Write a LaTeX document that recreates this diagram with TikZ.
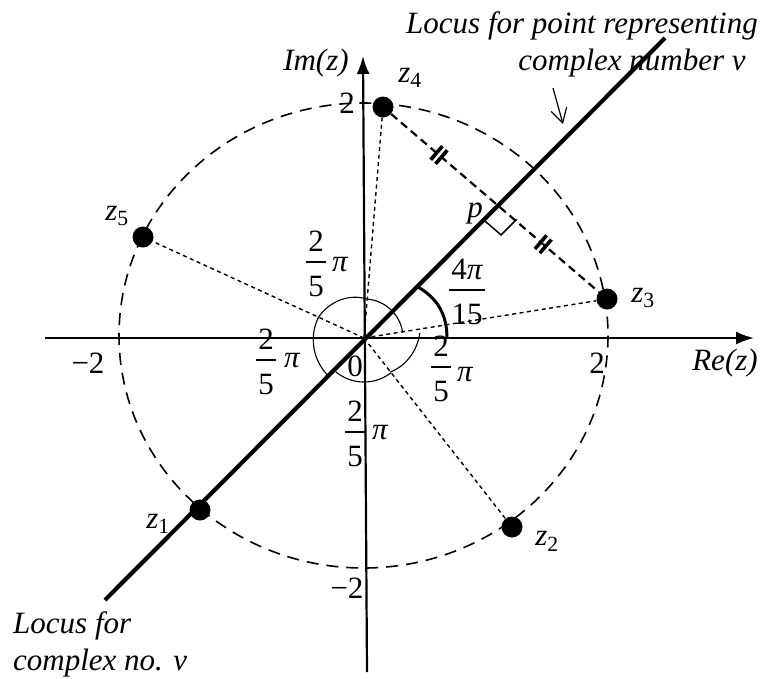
\documentclass[tikz,border=0pt]{standalone}
\usepackage{fontspec}
\setmainfont{Liberation Serif}
\usetikzlibrary{arrows.meta,calc}
\newcommand{\fracat}[5]{% name, bar centre, numerator, denominator, half bar length
  \node[num] (#1n) at ($(#2)+(0,-21)$) {#3};
  \draw[fracbar] ($(#2)+(-#5,0)$) -- ($(#2)+(#5,0)$);
  \node[num] (#1d) at ($(#2)+(0,24)$) {#4};}
\begin{document}
\begin{tikzpicture}[x=1pt,y=-1pt,
  axis/.style={line width=2.2pt,-{Latex[length=18pt,width=13pt]}},
  locus/.style={line width=4.2pt},
  circ/.style={line width=1.6pt,dash pattern=on 12pt off 8pt},
  dots/.style={line width=1.4pt,dash pattern=on 4pt off 3.5pt},
  chord/.style={line width=2.2pt,dash pattern=on 8pt off 5pt},
  tickmark/.style={line width=3.6pt},
  dotpt/.style={circle,fill=black,inner sep=0pt,minimum size=21pt},
  lab/.style={font=\fontsize{31}{36}\selectfont\itshape,inner sep=0pt},
  num/.style={font=\fontsize{31}{36}\selectfont,inner sep=0pt},
  fracbar/.style={line width=1.5pt},
  thinarc/.style={line width=1.1pt},
  anglearc/.style={line width=3pt},
  pointer/.style={line width=1.2pt,-{Straight Barb[length=14pt,width=16pt]}},
]
\useasboundingbox (0,0) rectangle (769,678);

% named points
\coordinate (O) at (364,338);
\coordinate (Lb) at (105,600);
\coordinate (Lt) at (665,38);
\coordinate (p) at (500,205);
\coordinate (pa) at (484.4,220.6);
\coordinate (pc) at (516.7,219.3);
\coordinate (pd) at (501.1,234.9);
\coordinate (xl) at (45,338);
\coordinate (xr) at (754,338);
\coordinate (yb) at (367,672);
\coordinate (yt) at (363,56);
\coordinate (ar1) at (553,88);
\coordinate (ar2) at (563,124);

% circle
\draw[circ] (363.5,335.5) ellipse [x radius=244.5, y radius=232.5];

% axes
\draw[axis] (xl) -- (xr);
\draw[axis] (yb) -- (yt);

% points
\node[dotpt] (z1) at (200,510) {};
\node[dotpt] (z2) at (512,527) {};
\node[dotpt] (z3) at (607,299) {};
\node[dotpt] (z4) at (383,107) {};
\node[dotpt] (z5) at (143,237) {};

% dotted radii
\draw[dots] (O) -- (z2);
\draw[dots] (O) -- (z3);
\draw[dots] (O) -- (z4);
\draw[dots] (O) -- (z5);

% chord z4-z3
\draw[chord] (z4) -- (z3);

% equal-length tick marks
\coordinate (t1) at ($(z4.center)!0.25!(z3.center)$);
\coordinate (t2) at ($(z4.center)!0.715!(z3.center)$);
\foreach \t in {t1,t2}{
  \draw[tickmark] ($(\t)!3.2pt!(z4.center)!9pt!90:(z4.center)$) -- ($(\t)!3.2pt!(z4.center)!9pt!-90:(z4.center)$);
  \draw[tickmark] ($(\t)!3.2pt!(z3.center)!9pt!90:(z3.center)$) -- ($(\t)!3.2pt!(z3.center)!9pt!-90:(z3.center)$);
}

% main locus line
\draw[locus] (Lb) -- (Lt);

% right angle box
\draw[line width=1.5pt] (pa) -- (pd) -- (pc);

% thin angle arcs
\draw[thinarc] plot[domain=8:85,samples=40] ({364+39*cos(\x)},{338-39*sin(\x)});
\draw[thinarc] plot[domain=85:155,samples=40] ({364+(39+11*(\x-85)/70)*cos(\x)},{338-(39+11*(\x-85)/70)*sin(\x)});
\draw[thinarc] plot[domain=155:226,samples=40] ({364+(50+2*(\x-155)/71)*cos(\x)},{338-(50+2*(\x-155)/71)*sin(\x)});
\draw[thinarc] plot[domain=230:308,samples=40] ({364+44*cos(\x)},{338-44*sin(\x)});
\draw[thinarc] plot[domain=308:365,samples=40] ({364+(43+13*(\x-308)/57)*cos(\x)},{338-(43+13*(\x-308)/57)*sin(\x)});

% 4pi/15 arc
\draw[anglearc] (447,338) .. controls (447,314) and (437,298) .. (418,287);

% pointer arrow
\draw[pointer] (ar1) -- (ar2);

% texts
\node[lab,anchor=base] (ttop1) at (582,33) {Locus for point representing};
\node[lab,anchor=base] (ttop2) at (632,70) {complex number v};
\node[lab,anchor=base west] (tbot1) at (13,633) {Locus for};
\node[lab,anchor=base west] (tbot2) at (13,670) {complex no. v};
\node[lab] (im) at (316,63) {Im(z)};
\node[lab] (re) at (725,363) {Re(z)};
\node[lab] (l4) at (410,78) {z\textsubscript{\upshape 4}};
\node[lab] (l5) at (117,216) {z\textsubscript{\upshape 5}};
\node[lab] (l3) at (643,298) {z\textsubscript{\upshape 3}};
\node[lab] (l2) at (547,541) {z\textsubscript{\upshape 2}};
\node[lab] (l1) at (158,524) {z\textsubscript{\upshape 1}};
\node[lab] (lp) at (475,213) {p};
\node[num] (m2l) at (88,363) {−2};
\node[num] (p2r) at (597,363) {2};
\node[num] (p2t) at (347,103) {2};
\node[num] (m2b) at (347,588) {−2};
\node[num] (zero) at (355,366) {0};

% fractions 2/5 pi
\fracat{fu}{316,262}{2}{5}{10}
\node[lab] (piu) at (340,265) {π};
\fracat{fl}{266,360}{2}{5}{10}
\node[lab] (pil) at (292,361) {π};
\fracat{fr}{441,367}{2}{5}{10}
\node[lab] (pir) at (465,375) {π};
\fracat{fb}{355,432}{2}{5}{10}
\node[lab] (pib) at (380,433) {π};
\fracat{ff}{467,290}{4\itshape π}{15}{18}
\end{tikzpicture}
\end{document}
